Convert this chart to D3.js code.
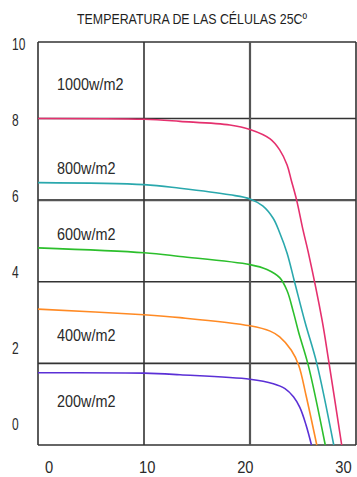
<!DOCTYPE html>
<html><head><meta charset="utf-8">
<script src="https://cdn.jsdelivr.net/npm/d3@7"></script>
<style>
body{margin:0;background:#fff}
svg{display:block}
text{font-family:'Liberation Sans',Arial,sans-serif;fill:#2a2a2a}
</style></head><body>
<svg id="c" width="357" height="477"></svg>
<script>
const title = "TEMPERATURA DE LAS CÉLULAS 25Cº";
const xTicks = [0, 10, 20, 30];
const yTicks = [0, 2, 4, 6, 8, 10];
const seriesNames = ["1000w/m2", "800w/m2", "600w/m2", "400w/m2", "200w/m2"];
const curve1000 = [[0,8.0],[10,7.98],[13.4,7.93],[18.1,7.84],[20,7.73],[21.9,7.5],[22.8,7.23],[23.5,6.86],[23.9,6.48],[24.4,6.0],[25.0,5.27],[25.5,4.72],[26.8,3.06],[27.4,2.1],[28.65,0]];
const curve800  = [[0,6.43],[10,6.38],[13.4,6.29],[18.1,6.13],[20,6.03],[21.2,5.86],[22.2,5.55],[22.8,5.2],[23.5,4.7],[24.2,4.0],[25.2,3.0],[26.3,2.0],[27.9,0]];
const curve600  = [[0,4.83],[10,4.71],[13.4,4.62],[20,4.42],[21.6,4.3],[22.8,4.1],[23.5,3.78],[24.1,3.25],[24.6,2.75],[25.5,1.95],[27.1,0]];
const curve400  = [[0,3.33],[10,3.19],[13.4,3.12],[20,2.92],[21.9,2.79],[22.8,2.65],[23.9,2.32],[24.6,1.95],[25.3,1.2],[26.3,0]];
const curve200  = [[0,1.77],[10,1.76],[13.4,1.72],[20,1.61],[22.2,1.5],[23.3,1.38],[24.1,1.18],[24.7,0.92],[25.3,0.48],[25.8,0]];
const seriesColors = ["#e5306e", "#2aa8ad", "#2cbf2c", "#ff8a24", "#5b30d6"];
const seriesLabelPos = [[1.8,8.9],[1.8,6.79],[1.8,5.17],[1.8,2.70],[1.8,1.08]];
const curves = [curve1000, curve800, curve600, curve400, curve200];

const svg = d3.select("#c");
const x = d3.scaleLinear().domain([0, 30]).range([38, 356]);
const y = d3.scaleLinear().domain([0, 8, 10]).range([445, 118.5, 42]);
const xLab = d3.scaleLinear().domain([0, 30]).range([49, 343.5]);
const yLab = d3.scaleLinear().domain([0, 10]).range([424, 44]);

function condense(sel, f) {
  sel.each(function() {
    const w = this.getComputedTextLength();
    d3.select(this).attr("textLength", w * f).attr("lengthAdjust", "spacingAndGlyphs");
  });
}

// title
svg.append("text").attr("x", 192).attr("y", 24).attr("text-anchor", "middle")
  .attr("font-size", 15).attr("textLength", 230).attr("lengthAdjust", "spacingAndGlyphs")
  .style("fill", "#1e1e1e").text(title);

// grid
const grid = svg.append("g");
grid.selectAll("line.h").data(yTicks).join("line")
  .attr("x1", x(0)).attr("x2", x(30))
  .attr("y1", d => y(d)).attr("y2", d => y(d))
  .attr("stroke", d => d === 6 ? "#555" : "#333")
  .attr("stroke-width", d => d === 6 ? 2.4 : 1.6);
grid.selectAll("line.v").data(xTicks).join("line")
  .attr("y1", y(0)).attr("y2", y(10))
  .attr("x1", d => x(d)).attr("x2", d => x(d))
  .attr("stroke", d => d === 20 ? "#555" : "#333")
  .attr("stroke-width", d => d === 20 ? 2.2 : 1.6);

// tick labels
svg.selectAll("text.yl").data(yTicks).join("text").attr("class", "yl")
  .attr("x", 12).attr("y", d => yLab(d)).attr("dy", "0.36em")
  .attr("font-size", 16).text(d => d).call(condense, 0.75);
svg.selectAll("text.xl").data(xTicks).join("text").attr("class", "xl")
  .attr("x", d => xLab(d)).attr("y", 467.5).attr("dy", "0.36em")
  .attr("text-anchor", "middle").attr("font-size", 16).text(d => d).call(condense, 0.92);

// curves
const line = d3.line().x(d => x(d[0])).y(d => y(d[1])).curve(d3.curveCatmullRom.alpha(0.5));
svg.append("g").selectAll("path").data(curves).join("path")
  .attr("d", line).attr("fill", "none")
  .attr("stroke", (d, i) => seriesColors[i]).attr("stroke-width", 1.6);

// series labels
svg.selectAll("text.sl").data(seriesNames).join("text").attr("class", "sl")
  .attr("x", (d, i) => x(seriesLabelPos[i][0])).attr("y", (d, i) => y(seriesLabelPos[i][1]))
  .attr("dy", "0.36em").attr("font-size", 16).text(d => d).call(condense, 0.9);
</script>
</body></html>
